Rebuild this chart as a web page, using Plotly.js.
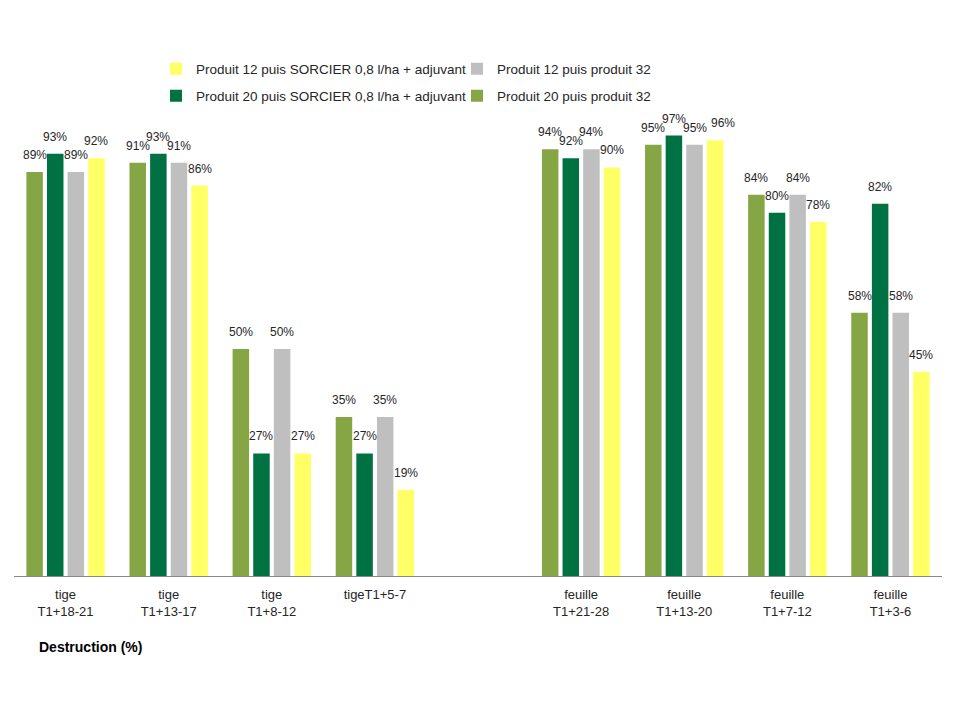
<!DOCTYPE html>
<html>
<head>
<meta charset="utf-8">
<script src="https://cdn.plot.ly/plotly-3.0.1.min.js"></script>
<style>html,body{margin:0;padding:0;background:#fff;}#chart{width:960px;height:720px;}</style>
</head>
<body>
<div id="chart"></div>
<script>
const categories = ["tige<br>T1+18-21", "tige<br>T1+13-17", "tige<br>T1+8-12", "tigeT1+5-7", " ", "feuille<br>T1+21-28", "feuille<br>T1+13-20", "feuille<br>T1+7-12", "feuille<br>T1+3-6"];
const p20p32 = [89, 91, 50, 35, null, 94, 95, 84, 58];
const p20sorcier = [93, 93, 27, 27, null, 92, 97, 80, 82];
const p12p32 = [89, 91, 50, 35, null, 94, 95, 84, 58];
const p12sorcier = [92, 86, 27, 19, null, 90, 96, 78, 45];
const seriesNames = ["Produit 20 puis produit 32", "Produit 20 puis SORCIER 0,8 l/ha + adjuvant", "Produit 12 puis produit 32", "Produit 12 puis SORCIER 0,8 l/ha + adjuvant"];
const colors = ["#86A645", "#007142", "#BFBFBF", "#FFFF66"];
const series = [p20p32, p20sorcier, p12p32, p12sorcier];
const legendRefs = ["legend4", "legend3", "legend2", "legend"];

const fontFam = "Liberation Sans, Arial, sans-serif";
const traces = series.map((vals, i) => ({
  type: "bar",
  name: seriesNames[i],
  x: categories,
  y: vals,
  marker: {color: colors[i], line: {width: 0}},
  legend: legendRefs[i],
  hoverinfo: "skip"
}));

const legendBase = {
  orientation: "h",
  xref: "container", yref: "container",
  xanchor: "left", yanchor: "middle",
  font: {family: fontFam, size: 13.5, color: "#262626"},
  bgcolor: "rgba(0,0,0,0)",
  itemwidth: 30
};

const layout = {
  width: 960, height: 720,
  paper_bgcolor: "#ffffff", plot_bgcolor: "#ffffff",
  margin: {l: 14, r: 18, t: 122, b: 144},
  barmode: "group",
  bargap: 0.2,
  bargroupgap: 0.2,
  showlegend: true,
  legend: Object.assign({}, legendBase, {x: 156/960, y: 1 - 69/720}),
  legend2: Object.assign({}, legendBase, {x: 457/960, y: 1 - 69/720}),
  legend3: Object.assign({}, legendBase, {x: 156/960, y: 1 - 96/720}),
  legend4: Object.assign({}, legendBase, {x: 457/960, y: 1 - 96/720}),
  xaxis: {
    type: "category",
    showgrid: false,
    showline: true, linecolor: "#898989", linewidth: 1,
    ticks: "",
    ticklabelstandoff: 6,
    tickfont: {family: fontFam, size: 13, color: "#262626"},
    fixedrange: true
  },
  yaxis: {
    range: [0, 100],
    visible: false,
    showgrid: false,
    zeroline: false,
    fixedrange: true
  },
  annotations: [{
    text: "<b>Destruction (%)</b>",
    xref: "paper", yref: "paper",
    x: (37 - 14) / 928, xanchor: "left",
    y: (576 - 647) / 454, yanchor: "middle",
    showarrow: false,
    font: {family: fontFam, size: 14, color: "#000000"}
  }]
};

const gd = document.getElementById("chart");
Plotly.newPlot(gd, traces, layout, {displayModeBar: false, staticPlot: true}).then(() => {
  const ya = gd._fullLayout.yaxis;
  const labels = [];
  gd.calcdata.forEach((cdTrace, t) => {
    cdTrace.forEach((di, k) => {
      const v = series[t][k];
      if (v === null || v === undefined) return;
      // simple collision avoidance with the neighbouring label on the left
      let xshift = 0;
      if (t > 0) {
        const prev = series[t - 1][k];
        if (prev !== null && Math.abs(ya.l2p(prev) - ya.l2p(v)) < 6) xshift = 8;
      }
      labels.push({
        x: di.x, y: v,
        xref: "x", yref: "y",
        text: v + "%",
        showarrow: false,
        yanchor: "bottom", xanchor: "center",
        yshift: 8, xshift: xshift,
        font: {family: fontFam, size: 12, color: "#262626"}
      });
    });
  });
  return Plotly.relayout(gd, {annotations: layout.annotations.concat(labels)});
});
</script>
</body>
</html>
